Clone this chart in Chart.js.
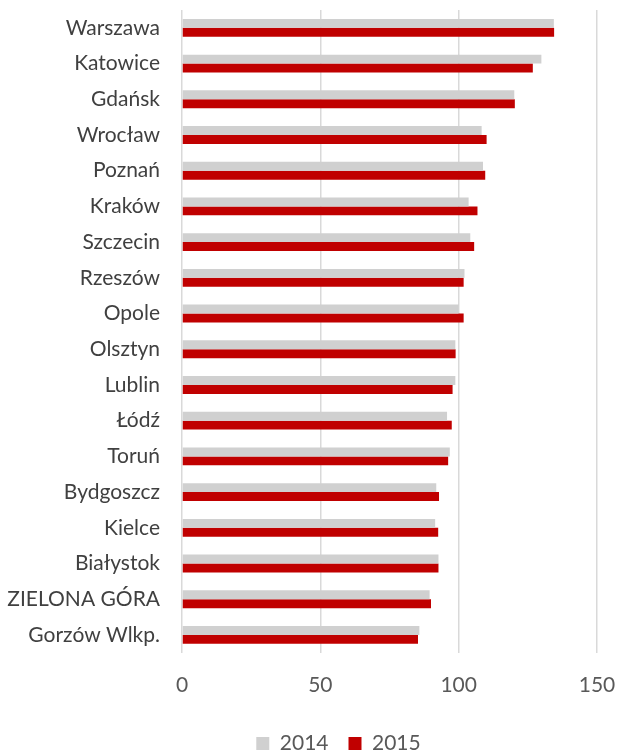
<!DOCTYPE html>
<html>
<head>
<meta charset="utf-8">
<script src="https://cdn.jsdelivr.net/npm/chart.js@4/dist/chart.umd.min.js"></script>
<style>
    html, body { margin: 0; padding: 0; background: #ffffff; }
    #wrap { width: 623px; height: 751px; }
</style>
</head>
<body>
<div id="wrap"><canvas id="chart" width="623" height="751"></canvas></div>
<script>
    // Chart data
    var cities = ['Warszawa', 'Katowice', 'Gdańsk', 'Wrocław', 'Poznań', 'Kraków', 'Szczecin',
        'Rzeszów', 'Opole', 'Olsztyn', 'Lublin', 'Łódź', 'Toruń', 'Bydgoszcz', 'Kielce',
        'Białystok', 'ZIELONA GÓRA', 'Gorzów Wlkp.'];
    var seriesNames = ['2014', '2015'];
    var values2014 = [134.4, 129.9, 120.1, 108.3, 108.8, 103.6, 104.2, 102.1, 100.0, 98.8,
        98.8, 95.8, 96.8, 91.9, 91.5, 92.7, 89.5, 85.8];
    var values2015 = [134.5, 126.8, 120.3, 110.1, 109.6, 106.8, 105.6, 101.8, 101.8, 98.9,
        97.8, 97.5, 96.2, 92.9, 92.6, 92.7, 90.0, 85.3];
    var xTicks = [0, 50, 100, 150];

    var fontFamily = 'Lato, "Open Sans", sans-serif';

    // Legend in the reference sits a bit right of the page centre, and close to the bottom
    var legendShift = {
        id: 'legendShift',
        afterLayout: function(chart) {
            var lg = chart.legend;
            if (!lg) {
                return;
            }
            lg.left += 40;
            lg.right += 40;
            lg.top -= 12;
            lg.bottom -= 12;
        }
    };

    var ctx = document.getElementById('chart').getContext('2d');

    new Chart(ctx, {
        type: 'bar',
        data: {
            labels: cities,
            datasets: [{
                label: seriesNames[0],
                data: values2014,
                backgroundColor: '#d0d0d0',
                categoryPercentage: 0.5,
                barPercentage: 1.0
            }, {
                label: seriesNames[1],
                data: values2015,
                backgroundColor: '#c00000',
                categoryPercentage: 0.5,
                barPercentage: 1.0
            }]
        },
        options: {
            indexAxis: 'y',
            responsive: false,
            animation: false,
            layout: {
                padding: { left: 0, right: 26, top: 10, bottom: -25 }
            },
            plugins: {
                legend: {
                    position: 'bottom',
                    labels: {
                        boxWidth: 13,
                        boxHeight: 13,
                        padding: 20,
                        color: '#595959',
                        font: { family: fontFamily, size: 21 }
                    }
                },
                tooltip: { enabled: false }
            },
            scales: {
                x: {
                    min: 0,
                    max: 150,
                    afterBuildTicks: function(scale) {
                        scale.ticks = xTicks.map(function(v) { return { value: v }; });
                    },
                    afterFit: function(scale) {
                        scale.height += 7;
                        scale.paddingLeft = 0;
                        scale.paddingRight = 0;
                    },
                    grid: {
                        color: '#d9d9d9',
                        lineWidth: 1.5,
                        drawTicks: false
                    },
                    border: { display: false },
                    ticks: {
                        padding: 20,
                        color: '#595959',
                        font: { family: fontFamily, size: 21 }
                    }
                },
                y: {
                    afterFit: function(scale) {
                        scale.width = 182;
                        scale.paddingTop = 0;
                        scale.paddingBottom = 0;
                    },
                    grid: { display: false, drawTicks: false },
                    border: { display: false },
                    ticks: {
                        padding: 22,
                        color: '#404040',
                        font: { family: fontFamily, size: 21 }
                    }
                }
            }
        },
        plugins: [legendShift]
    });
</script>
</body>
</html>
